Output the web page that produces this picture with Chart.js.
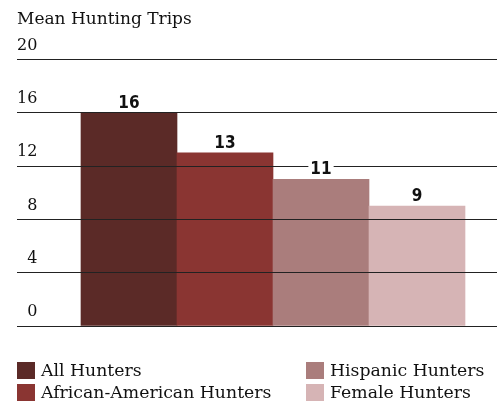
<!DOCTYPE html>
<html>
<head>
<meta charset="utf-8">
<script src="https://cdn.jsdelivr.net/npm/chart.js@4.4.1/dist/chart.umd.min.js"></script>
<style>
  html, body { margin: 0; padding: 0; background: #fff; }
  #wrap { position: relative; width: 502px; height: 404px; }
  #legend {
    position: absolute; left: 17px; top: 359px;
    display: grid; grid-template-rows: 22px 22px; grid-auto-flow: column;
    grid-template-columns: 289px auto;
    font: 17.3px "DejaVu Serif", serif; color: #111;
  }
  .item { display: flex; align-items: center; white-space: nowrap; }
  .box { width: 18px; height: 17px; margin-right: 6px; }
</style>
</head>
<body>
<div id="wrap">
  <canvas id="grafica" width="502" height="404"></canvas>
  <div id="legend"></div>
</div>
<script>
// Datos
const grupos = ["All Hunters", "African-American Hunters", "Hispanic Hunters", "Female Hunters"];
const viajes = [16, 13, 11, 9];
const colores = ["#5b2a27", "#8a3532", "#aa7d7c", "#d6b4b5"];
const ticksY = [0, 4, 8, 12, 16, 20];

const fuente = '"DejaVu Serif", serif';

// Etiquetas de valor encima de cada barra, con fondo blanco que corta la rejilla
const etiquetasValor = {
  id: "etiquetasValor",
  afterDraw(chart) {
    const ctx = chart.ctx;
    const meta = chart.getDatasetMeta(0);
    ctx.save();
    ctx.font = 'bold 17px "DejaVu Sans Condensed", "DejaVu Sans", sans-serif';
    ctx.textAlign = "center";
    ctx.textBaseline = "alphabetic";
    meta.data.forEach((bar, i) => {
      const texto = String(viajes[i]);
      const w = ctx.measureText(texto).width;
      const base = bar.y - 5;
      ctx.fillStyle = "#fff";
      ctx.fillRect(bar.x - w / 2 - 2, base - 14, w + 4, 16);
      ctx.fillStyle = "#111";
      ctx.fillText(texto, bar.x, base);
    });
    ctx.restore();
  }
};

const ctx = document.getElementById("grafica").getContext("2d");
new Chart(ctx, {
  type: "bar",
  data: {
    datasets: [{
      label: "Mean Hunting Trips",
      data: viajes.map((v, i) => ({ x: i, y: v })),
      backgroundColor: colores,
      borderWidth: 0,
      categoryPercentage: 1,
      barPercentage: 1
    }]
  },
  options: {
    responsive: false,
    animation: false,
    layout: { padding: { left: 17, right: 5, top: 0, bottom: 78 } },
    scales: {
      x: {
        type: "linear",
        display: false,
        offset: false,
        min: -7 / 6,
        max: 23 / 6,
        ticks: { stepSize: 1, includeBounds: false }
      },
      y: {
        min: 0,
        max: 20,
        z: 1,
        border: { display: false },
        // la rejilla va por encima de las barras
        grid: { color: "#222", lineWidth: 1, drawTicks: false, z: 1 },
        afterBuildTicks: (scale) => { scale.ticks = ticksY.map(v => ({ value: v })); },
        ticks: {
          mirror: true,
          crossAlign: "far",
          padding: 0,
          labelOffset: -14,
          color: "#111",
          font: { family: fuente, size: 16 }
        }
      }
    },
    plugins: {
      legend: { display: false },
      tooltip: { enabled: false },
      title: {
        display: true,
        text: "Mean Hunting Trips",
        align: "start",
        color: "#111",
        font: { family: fuente, size: 17, weight: "normal" },
        padding: { top: 9, bottom: 30 }
      }
    }
  },
  plugins: [etiquetasValor]
});

// Leyenda en dos columnas
document.getElementById("legend").innerHTML = grupos
  .map((g, i) => `<div class="item"><span class="box" style="background:${colores[i]}"></span>${g}</div>`)
  .join("");
</script>
</body>
</html>
